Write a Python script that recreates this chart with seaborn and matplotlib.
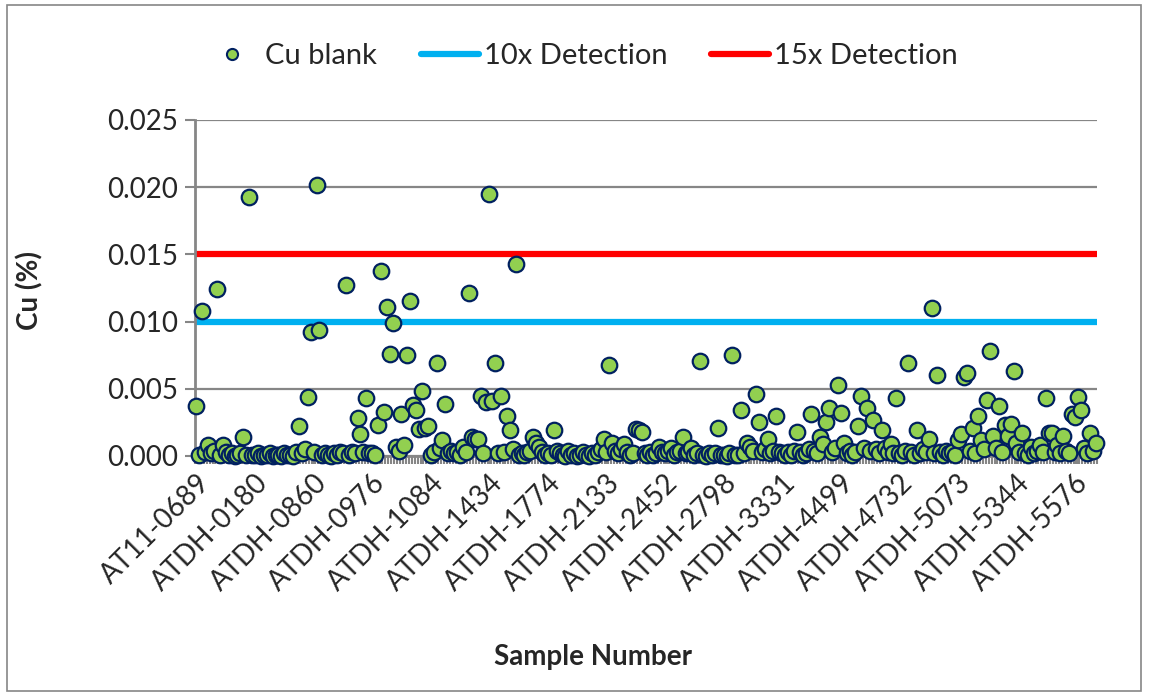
import numpy as np
import pandas as pd
import matplotlib
matplotlib.use('Agg')
import matplotlib.pyplot as plt
from matplotlib.lines import Line2D
from matplotlib.patches import Rectangle
import seaborn as sns

# Cu blank assays (%), in sample order; one row per labelled block of 20 samples
cu_blank = [
    .0037, .0001, .0108, .0003, .0008, .0002, .0004, .0124, .0001, .0008, .0003, .0001, .0002, .0000, .0001, .0002, .0014, .0001, .0193, .0001,  # AT11-0689
    .0001, .0002, .0000, .0001, .0001, .0002, .0000, .0001, .0001, .0000, .0002, .0001, .0001, .0000, .0003, .0022, .0002, .0005, .0044, .0092,  # ATDH-0180
    .0003, .0202, .0094, .0001, .0002, .0001, .0000, .0002, .0001, .0003, .0002, .0127, .0001, .0003, .0002, .0028, .0016, .0003, .0043, .0002,  # ATDH-0860
    .0002, .0001, .0023, .0138, .0033, .0111, .0076, .0099, .0007, .0004, .0031, .0008, .0075, .0115, .0038, .0034, .0020, .0048, .0021, .0022,  # ATDH-0976
    .0001, .0003, .0069, .0006, .0012, .0039, .0002, .0004, .0002, .0003, .0001, .0007, .0003, .0121, .0014, .0013, .0013, .0045, .0002, .0040,  # ATDH-1084
    .0195, .0041, .0069, .0002, .0045, .0003, .0030, .0019, .0005, .0143, .0001, .0002, .0001, .0003, .0004, .0014, .0010, .0007, .0003, .0001,  # ATDH-1434
    .0002, .0001, .0019, .0004, .0002, .0001, .0000, .0004, .0001, .0002, .0000, .0001, .0003, .0001, .0000, .0002, .0001, .0003, .0005, .0013,  # ATDH-1774
    .0003, .0068, .0010, .0004, .0002, .0005, .0009, .0003, .0001, .0002, .0020, .0019, .0018, .0002, .0001, .0003, .0001, .0002, .0007, .0003,  # ATDH-2133
    .0002, .0004, .0006, .0001, .0003, .0004, .0014, .0002, .0003, .0006, .0001, .0002, .0071, .0001, .0000, .0002, .0001, .0002, .0021, .0001,  # ATDH-2452
    .0001, .0000, .0002, .0075, .0001, .0001, .0034, .0002, .0010, .0007, .0004, .0046, .0025, .0003, .0005, .0013, .0002, .0004, .0030, .0003,  # ATDH-2798
    .0002, .0001, .0003, .0001, .0004, .0018, .0003, .0001, .0002, .0005, .0031, .0004, .0002, .0014, .0009, .0025, .0036, .0003, .0006, .0053,  # ATDH-3331
    .0032, .0010, .0002, .0004, .0001, .0003, .0022, .0045, .0006, .0036, .0004, .0027, .0005, .0002, .0019, .0006, .0003, .0009, .0002, .0043,  # ATDH-4499
    .0002, .0001, .0004, .0069, .0003, .0001, .0019, .0002, .0005, .0003, .0013, .0110, .0002, .0060, .0003, .0001, .0004, .0002, .0003, .0001,  # ATDH-4732
    .0012, .0016, .0059, .0062, .0004, .0021, .0002, .0030, .0012, .0005, .0042, .0078, .0015, .0006, .0037, .0003, .0023, .0015, .0024, .0063,  # ATDH-5073
    .0010, .0003, .0017, .0002, .0001, .0007, .0002, .0004, .0008, .0003, .0043, .0017, .0017, .0003, .0008, .0002, .0015, .0004, .0002, .0031,  # ATDH-5344
    .0029, .0044, .0034, .0006, .0002, .0017, .0004, .0010,  # ATDH-5576
]

tick_labels = ['AT11-0689', 'ATDH-0180', 'ATDH-0860', 'ATDH-0976', 'ATDH-1084',
               'ATDH-1434', 'ATDH-1774', 'ATDH-2133', 'ATDH-2452', 'ATDH-2798',
               'ATDH-3331', 'ATDH-4499', 'ATDH-4732', 'ATDH-5073', 'ATDH-5344',
               'ATDH-5576']
label_step = 20

det_10x = 0.010
det_15x = 0.015

W, H = 1149, 696
sns.set_theme(style='white')
plt.rcParams['font.family'] = ['Lato', 'DejaVu Sans']

fig = plt.figure(figsize=(W / 100, H / 100), dpi=100)
ax = fig.add_axes([195 / W, 1 - 456 / H, (1097 - 195) / W, (456 - 120) / H])

df = pd.DataFrame({'sample': np.arange(len(cu_blank)), 'cu': cu_blank})
n = len(df)

# detection limit lines
ax.axhline(det_10x, color='#00B0F0', lw=4.5, zorder=2)
ax.axhline(det_15x, color='#FF0000', lw=4.5, zorder=2)

sns.scatterplot(data=df, x='sample', y='cu', ax=ax, s=125, color='#92D050',
                edgecolor='#002060', linewidth=1.6, zorder=3, clip_on=False,
                legend=False)

ax.set_xlim(-0.5, n - 0.5)
ax.set_ylim(0, 0.025)
ax.set_yticks(np.arange(0, 0.0251, 0.005))
ax.set_yticklabels([f'{v:.3f}' for v in np.arange(0, 0.0251, 0.005)], fontsize=20)
ax.yaxis.grid(True, color='#868686', lw=1.6)
ax.set_axisbelow(True)

ax.set_xticks(np.arange(0, n, label_step))
ax.set_xticklabels(tick_labels, rotation=45, ha='right', va='top',
                   rotation_mode='anchor', fontsize=20)
ax.set_xticks(np.arange(-0.5, n, 1), minor=True)
ax.tick_params(axis='x', which='both', direction='out', length=6, width=1.5,
               color='#868686', pad=4, bottom=True)
ax.tick_params(axis='y', direction='out', length=7, width=1.5,
               color='#868686', pad=5, left=True)
ax.set_xlabel('')
ax.set_ylabel('')

for side in ['top', 'right']:
    ax.spines[side].set_visible(False)
for side in ['left', 'bottom']:
    ax.spines[side].set_color('#868686')
    ax.spines[side].set_linewidth(2)

handles = [
    Line2D([], [], marker='o', ls='none', markerfacecolor='#92D050',
           markeredgecolor='#002060', markersize=8, markeredgewidth=1.5),
    Line2D([], [], color='#00B0F0', lw=4.5, solid_capstyle='round'),
    Line2D([], [], color='#FF0000', lw=4.5, solid_capstyle='round'),
]
fig.legend(handles, ['Cu blank', '10x Detection', '15x Detection'],
           loc='center', bbox_to_anchor=(580 / W, 1 - 56 / H), ncol=3,
           frameon=False, fontsize=21, handlelength=2.0, handletextpad=0.15,
           columnspacing=1.5)

fig.text(30 / W, 1 - 290 / H, 'Cu (%)', rotation=90, ha='center', va='center',
         fontsize=20, fontweight='bold')
fig.text(593 / W, 1 - 657 / H, 'Sample Number', ha='center', va='center',
         fontsize=20, fontweight='bold')

fig.patches.append(Rectangle((7 / W, 5 / H), (1141 - 7) / W, (691 - 5) / H,
                             transform=fig.transFigure, fill=False,
                             ec='#868686', lw=1.2))

fig.savefig('out.png', dpi=100)
